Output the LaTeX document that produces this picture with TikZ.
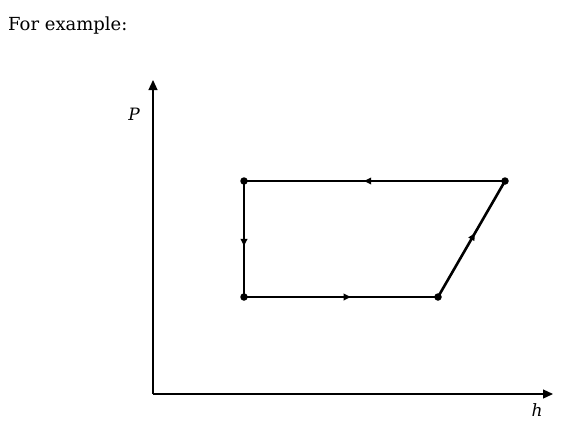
\documentclass[tikz,border=0pt]{standalone}
\usepackage{fontspec}
\setmainfont{DejaVu Serif}
\usetikzlibrary{arrows.meta,decorations.markings}
\begin{document}
\begin{tikzpicture}[x=1pt,y=-1pt,
  axis/.style={line width=1.2pt,-{Triangle[length=10pt,width=9pt]}},
  cycleline/.style={line width=2.6pt,line cap=round},
  midarrow/.style={postaction={decorate},decoration={markings,mark=at position #1 with {\arrow{Triangle[length=7pt,width=6.5pt]}}}},
  pt/.style={circle,fill=black,inner sep=0pt,minimum size=7.5pt},
  lbl/.style={font=\fontsize{17}{19}\selectfont\itshape}]
\useasboundingbox (0,0) rectangle (585,436);
\node[anchor=west,inner sep=0pt,font=\fontsize{18}{20}\selectfont] (title) at (8,26) {For example:};
\coordinate (O) at (153,394);
\coordinate (ytip) at (153,80);
\coordinate (xtip) at (553,394);
\draw[axis] (O) -- (ytip);
\draw[axis] (O) -- (xtip);
\node[lbl] (P) at (134,114) {P};
\node[lbl] (h) at (537,410) {h};
\node[pt] (a) at (244,181) {};
\node[pt] (b) at (505,181) {};
\node[pt] (c) at (438,297) {};
\node[pt] (d) at (244,297) {};
\draw[cycleline,midarrow=0.54] (b.center) -- (a.center);
\draw[cycleline,midarrow=0.56] (a.center) -- (d.center);
\draw[cycleline,midarrow=0.55] (d.center) -- (c.center);
\draw[cycleline,midarrow=0.55] (c.center) -- (b.center);
\end{tikzpicture}
\end{document}
